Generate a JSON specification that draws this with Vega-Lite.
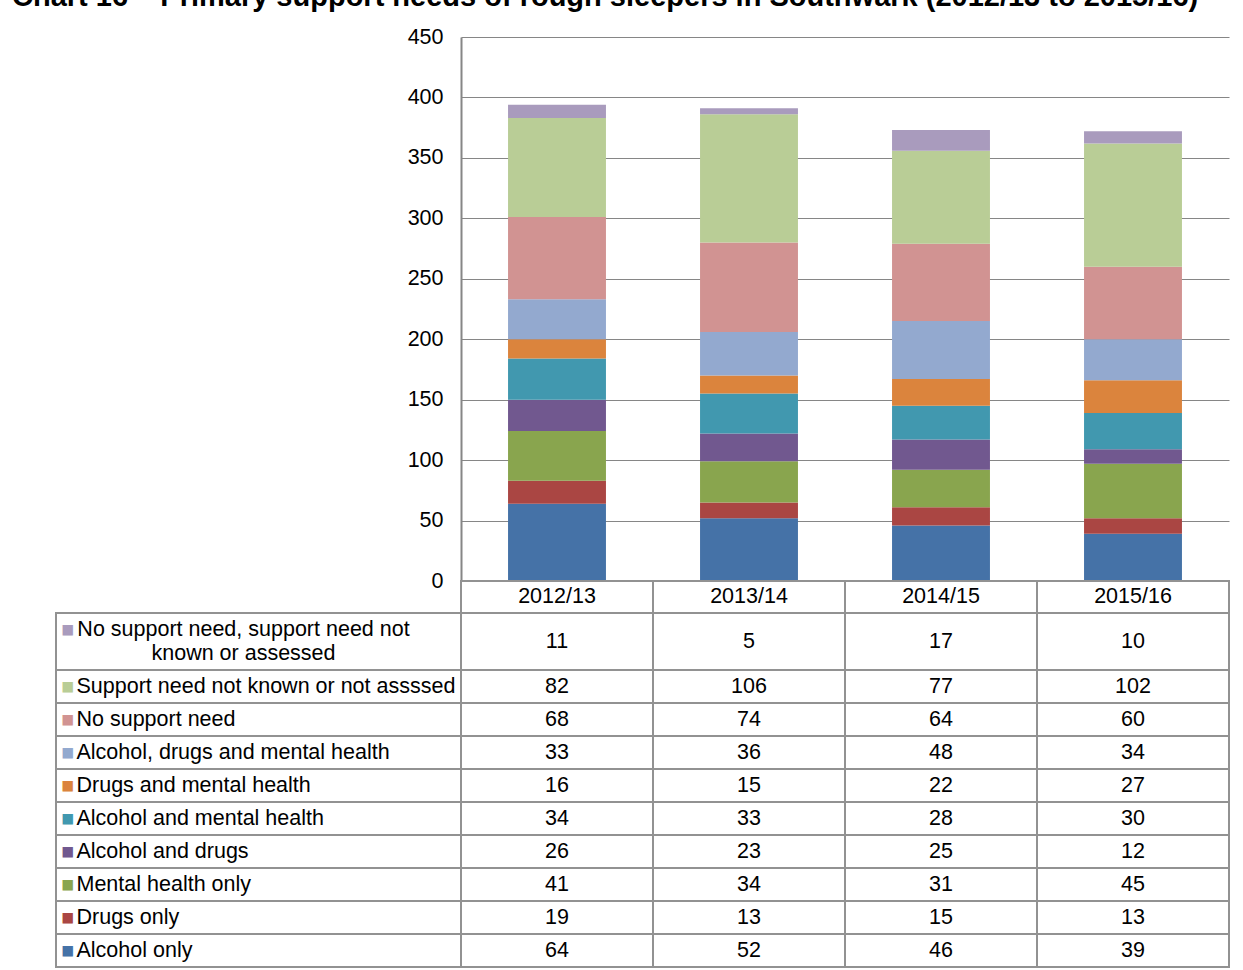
{
  "$schema": "https://vega.github.io/schema/vega-lite/v6.json",
  "background": "white",
  "padding": {"left": 12, "top": -17, "right": 15, "bottom": 3},
  "config": {"view": {"stroke": null}, "font": "Liberation Sans"},
  "title": {"text": "Chart 16 – Primary support needs of rough sleepers in Southwark (2012/13 to 2015/16)", "anchor": "start", "dx": -43, "fontSize": 29, "fontWeight": "bold", "font": "Liberation Sans", "color": "black", "offset": 14},
  "datasets": {
    "d": [
      {"year": "2012/13", "cat": "Alcohol only", "k": 1, "v": 64},
      {"year": "2013/14", "cat": "Alcohol only", "k": 1, "v": 52},
      {"year": "2014/15", "cat": "Alcohol only", "k": 1, "v": 46},
      {"year": "2015/16", "cat": "Alcohol only", "k": 1, "v": 39},
      {"year": "2012/13", "cat": "Drugs only", "k": 2, "v": 19},
      {"year": "2013/14", "cat": "Drugs only", "k": 2, "v": 13},
      {"year": "2014/15", "cat": "Drugs only", "k": 2, "v": 15},
      {"year": "2015/16", "cat": "Drugs only", "k": 2, "v": 13},
      {"year": "2012/13", "cat": "Mental health only", "k": 3, "v": 41},
      {"year": "2013/14", "cat": "Mental health only", "k": 3, "v": 34},
      {"year": "2014/15", "cat": "Mental health only", "k": 3, "v": 31},
      {"year": "2015/16", "cat": "Mental health only", "k": 3, "v": 45},
      {"year": "2012/13", "cat": "Alcohol and drugs", "k": 4, "v": 26},
      {"year": "2013/14", "cat": "Alcohol and drugs", "k": 4, "v": 23},
      {"year": "2014/15", "cat": "Alcohol and drugs", "k": 4, "v": 25},
      {"year": "2015/16", "cat": "Alcohol and drugs", "k": 4, "v": 12},
      {"year": "2012/13", "cat": "Alcohol and mental health", "k": 5, "v": 34},
      {"year": "2013/14", "cat": "Alcohol and mental health", "k": 5, "v": 33},
      {"year": "2014/15", "cat": "Alcohol and mental health", "k": 5, "v": 28},
      {"year": "2015/16", "cat": "Alcohol and mental health", "k": 5, "v": 30},
      {"year": "2012/13", "cat": "Drugs and mental health", "k": 6, "v": 16},
      {"year": "2013/14", "cat": "Drugs and mental health", "k": 6, "v": 15},
      {"year": "2014/15", "cat": "Drugs and mental health", "k": 6, "v": 22},
      {"year": "2015/16", "cat": "Drugs and mental health", "k": 6, "v": 27},
      {"year": "2012/13", "cat": "Alcohol, drugs and mental health", "k": 7, "v": 33},
      {"year": "2013/14", "cat": "Alcohol, drugs and mental health", "k": 7, "v": 36},
      {"year": "2014/15", "cat": "Alcohol, drugs and mental health", "k": 7, "v": 48},
      {"year": "2015/16", "cat": "Alcohol, drugs and mental health", "k": 7, "v": 34},
      {"year": "2012/13", "cat": "No support need", "k": 8, "v": 68},
      {"year": "2013/14", "cat": "No support need", "k": 8, "v": 74},
      {"year": "2014/15", "cat": "No support need", "k": 8, "v": 64},
      {"year": "2015/16", "cat": "No support need", "k": 8, "v": 60},
      {"year": "2012/13", "cat": "Support need not known or not assssed", "k": 9, "v": 82},
      {"year": "2013/14", "cat": "Support need not known or not assssed", "k": 9, "v": 106},
      {"year": "2014/15", "cat": "Support need not known or not assssed", "k": 9, "v": 77},
      {"year": "2015/16", "cat": "Support need not known or not assssed", "k": 9, "v": 102},
      {"year": "2012/13", "cat": "No support need, support need not known or assessed", "k": 10, "v": 11},
      {"year": "2013/14", "cat": "No support need, support need not known or assessed", "k": 10, "v": 5},
      {"year": "2014/15", "cat": "No support need, support need not known or assessed", "k": 10, "v": 17},
      {"year": "2015/16", "cat": "No support need, support need not known or assessed", "k": 10, "v": 10}
    ]
  },
  "columns": 2,
  "spacing": 0,
  "bounds": "flush",
  "concat": [
    {
      "width": 405, "height": 544,
      "data": {"name": "d"},
      "mark": {"type": "text", "opacity": 0},
      "encoding": {}
    },
    {
      "width": 768, "height": 544,
      "data": {"name": "d"},
      "mark": {"type": "bar"},
      "encoding": {
        "x": {"field": "year", "type": "nominal", "scale": {"paddingInner": 0.49, "paddingOuter": 0.245}, "axis": null},
        "y": {"field": "v", "type": "quantitative", "stack": "zero", "scale": {"domain": [0, 450]},
          "axis": {"values": [0, 50, 100, 150, 200, 250, 300, 350, 400, 450], "title": null, "grid": true, "gridColor": "#868686", "gridWidth": 1, "domainColor": "#868686", "domainWidth": 2, "ticks": false, "labelPadding": 18, "labelFontSize": 21.5, "labelColor": "black", "labelFont": "Liberation Sans"}},
        "color": {"field": "cat", "type": "nominal", "legend": null,
          "scale": {"domain": ["Alcohol only", "Drugs only", "Mental health only", "Alcohol and drugs", "Alcohol and mental health", "Drugs and mental health", "Alcohol, drugs and mental health", "No support need", "Support need not known or not assssed", "No support need, support need not known or assessed"],
            "range": ["#4572A7", "#AA4643", "#89A54E", "#71588F", "#4198AF", "#DB843D", "#93A9CF", "#D19392", "#B9CD96", "#A99BBD"]}},
        "order": {"field": "k", "type": "quantitative"}
      }
    },
    {
      "width": 405, "height": 32,
      "data": {"name": "d"},
      "mark": {"type": "text", "opacity": 0},
      "encoding": {}
    },
    {
      "width": 768, "height": 32,
      "data": {"name": "d"},
      "transform": [{"filter": "datum.k == 1"}],
      "layer": [
        {"mark": {"type": "rect", "fill": "white", "stroke": "#929292", "strokeWidth": 2},
         "encoding": {"x": {"field": "year", "type": "nominal", "axis": null}}},
        {"mark": {"type": "text", "fontSize": 21.5, "color": "black", "font": "Liberation Sans"},
         "encoding": {"x": {"field": "year", "type": "nominal", "axis": null}, "text": {"field": "year"}}}
      ]
    },
    {
      "width": 405, "height": 57,
      "data": {"name": "d"},
      "transform": [{"filter": "datum.k == 10"}],
      "mark": {"type": "rect", "fill": "white", "stroke": "#929292", "strokeWidth": 2},
      "encoding": {
        "y": {"field": "cat", "type": "nominal",
          "axis": {"title": null, "domain": false, "ticks": false, "zindex": 1, "labelExpr": "'■'", "labelOffset": -12, "labelColor": "#A99BBD", "labelAlign": "left", "labelPadding": -5, "labelFontSize": 13.5, "labelBaseline": "middle", "labelFont": "DejaVu Sans"}}
      }
    },
    {
      "width": 768, "height": 57,
      "data": {"name": "d"},
      "transform": [{"filter": "datum.k == 10"}],
      "layer": [
        {"mark": {"type": "rect", "fill": "white", "stroke": "#929292", "strokeWidth": 2},
         "encoding": {
           "x": {"field": "year", "type": "nominal", "axis": null},
           "y": {"field": "cat", "type": "nominal",
             "axis": {"title": null, "domain": false, "ticks": false, "labelLimit": 600, "labelExpr": "[substring(datum.value, 0, 33), substring(datum.value, 34)]", "labelOffset": -12, "labelColor": "black", "labelAlign": "center", "labelPadding": 218, "labelFontSize": 21.5, "labelLineHeight": 24, "labelBaseline": "middle", "labelFont": "Liberation Sans"}}}},
        {"mark": {"type": "text", "fontSize": 21.5, "color": "black", "font": "Liberation Sans"},
         "encoding": {"x": {"field": "year", "type": "nominal"}, "y": {"field": "cat", "type": "nominal"}, "text": {"field": "v"}}}
      ]
    },
    {
      "width": 405, "height": 297,
      "data": {"name": "d"},
      "transform": [{"filter": "datum.k < 10 && datum.year == '2012/13'"}],
      "mark": {"type": "rect", "fill": "white", "stroke": "#929292", "strokeWidth": 2},
      "encoding": {
        "y": {"field": "cat", "type": "nominal", "sort": {"field": "k", "order": "descending"},
          "axis": {"title": null, "domain": false, "ticks": false, "zindex": 1, "labelExpr": "'■'", "labelColor": {"expr": "{'Alcohol only':'#4572A7','Drugs only':'#AA4643','Mental health only':'#89A54E','Alcohol and drugs':'#71588F','Alcohol and mental health':'#4198AF','Drugs and mental health':'#DB843D','Alcohol, drugs and mental health':'#93A9CF','No support need':'#D19392','Support need not known or not assssed':'#B9CD96'}[datum.value]"}, "labelAlign": "left", "labelPadding": -5, "labelFontSize": 13.5, "labelBaseline": "middle", "labelFont": "DejaVu Sans"}}
      }
    },
    {
      "width": 768, "height": 297,
      "data": {"name": "d"},
      "transform": [{"filter": "datum.k < 10"}],
      "layer": [
        {"mark": {"type": "rect", "fill": "white", "stroke": "#929292", "strokeWidth": 2},
         "encoding": {
           "x": {"field": "year", "type": "nominal", "axis": null},
           "y": {"field": "cat", "type": "nominal", "sort": {"field": "k", "order": "descending"},
             "axis": {"title": null, "domain": false, "ticks": false, "labelLimit": 600, "labelColor": "black", "labelAlign": "left", "labelPadding": 385, "labelFontSize": 21.5, "labelBaseline": "middle", "labelFont": "Liberation Sans"}}}},
        {"mark": {"type": "text", "fontSize": 21.5, "color": "black", "font": "Liberation Sans"},
         "encoding": {"x": {"field": "year", "type": "nominal"}, "y": {"field": "cat", "type": "nominal", "sort": {"field": "k", "order": "descending"}}, "text": {"field": "v"}}}
      ]
    }
  ]
}
